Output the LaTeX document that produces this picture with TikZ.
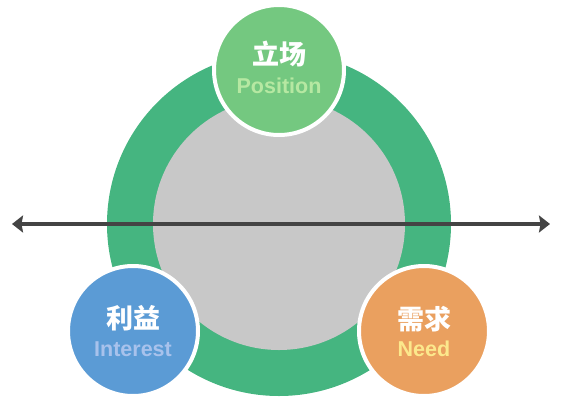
\documentclass[tikz,border=0pt]{standalone}
\usepackage{fontspec}
\setmainfont{Liberation Sans}
\newfontfamily\cjk{Noto Sans CJK SC}
\usetikzlibrary{arrows.meta}

\definecolor{ringgreen}{RGB}{69,181,128}
\definecolor{coregray}{RGB}{200,200,200}
\definecolor{posgreen}{RGB}{116,200,128}
\definecolor{intblue}{RGB}{91,155,213}
\definecolor{needorange}{RGB}{234,160,95}
\definecolor{postext}{RGB}{182,232,162}
\definecolor{inttext}{RGB}{168,194,236}
\definecolor{needtext}{RGB}{252,232,140}
\definecolor{arrowgray}{RGB}{68,68,68}

\begin{document}
\begin{tikzpicture}[x=1pt,y=-1pt,>={Stealth[length=11pt,width=17pt,inset=1.5pt]},
ring/.style={circle, fill=ringgreen, minimum size=344pt, inner sep=0pt},
core/.style={circle, fill=coregray, minimum size=252pt, inner sep=0pt},
topic/.style={circle, draw=white, line width=4pt, minimum size=130pt, inner sep=0pt},
cnlabel/.style={font=\cjk\bfseries\fontsize{27}{27}\selectfont, text=white},
enlabel/.style={font=\bfseries\fontsize{21.5}{21.5}\selectfont}]

\useasboundingbox (0,0) rectangle (563,400);

\node[ring] (Ring) at (279,224) {};
\node[core] (Core) at (279,224) {};

\coordinate (ArrL) at (12,224);
\coordinate (ArrR) at (550,224);
\draw[<->, line width=4pt, arrowgray] (ArrL) -- (ArrR);

\node[topic, fill=posgreen] (Pos) at (279,70) {};
\node[topic, fill=intblue] (Int) at (133,331) {};
\node[topic, fill=needorange] (Need) at (424,331) {};

\node[cnlabel] (PosCn) at (279,54) {立场};
\node[enlabel, text=postext] (PosEn) at (279,86) {Position};
\node[cnlabel] (IntCn) at (133,318) {利益};
\node[enlabel, text=inttext] (IntEn) at (133,349) {Interest};
\node[cnlabel] (NeedCn) at (424,319) {需求};
\node[enlabel, text=needtext] (NeedEn) at (424,349) {Need};

\end{tikzpicture}
\end{document}
